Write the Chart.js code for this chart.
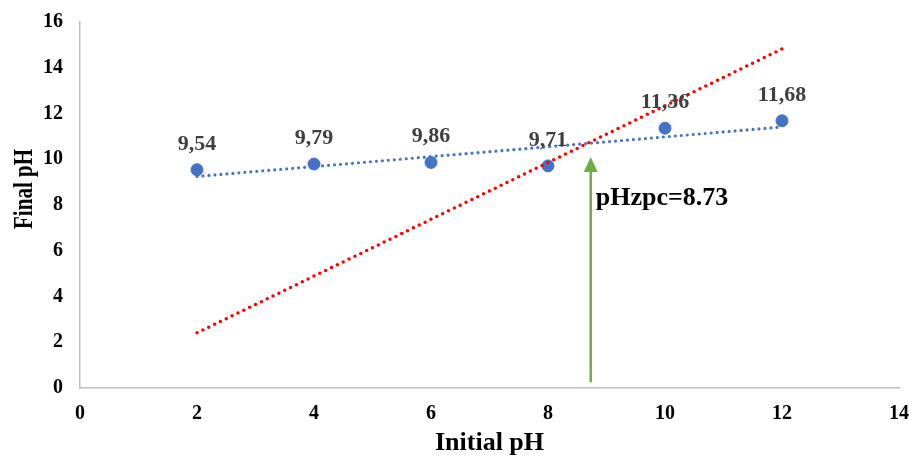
<!DOCTYPE html>
<html>
<head>
<meta charset="utf-8">
<script src="https://cdn.jsdelivr.net/npm/chart.js@4"></script>
<style>
  html, body { margin: 0; padding: 0; background: #fff; }
  #wrap { width: 909px; height: 459px; position: relative; }
</style>
</head>
<body>
<div id="wrap"><canvas id="chart"></canvas></div>
<script>
const initialPH = [2, 4, 6, 8, 10, 12];
const finalPH = [9.54, 9.79, 9.86, 9.71, 11.36, 11.68];
const pointLabels = ['9,54', '9,79', '9,86', '9,71', '11,36', '11,68'];

// Trendlinie (blau, gepunktet) und Vergleichslinie (rot, gepunktet)
const trendX = [2, 12];
const trendY = [9.25, 11.41];
const refX = [2, 12];
const refY = [2.41, 14.82];

// Nullladungspunkt
const pzcValue = 8.73;
const arrowFrom = 0.25;
const arrowTo = 10.1;
const pzcText = 'pHzpc=8.73';
const pzcTextY = 8.3;

const xTicks = [0, 2, 4, 6, 8, 10, 12, 14];
const yTicks = [0, 2, 4, 6, 8, 10, 12, 14, 16];
const yTitle = 'Final pH';
const yTitleAt = 8.7; // Mitte der Achsenbeschriftung in y-Werten

const serif = '"Liberation Serif", "Times New Roman", serif';

const toXY = (xs, ys) => xs.map((x, i) => ({ x: x, y: ys[i] }));

const extras = {
    id: 'extras',
    afterDatasetsDraw(chart) {
        const { ctx, scales: { x, y } } = chart;
        ctx.save();

        // Pfeil
        const ax = x.getPixelForValue(pzcValue);
        const y0 = y.getPixelForValue(arrowFrom);
        const y1 = y.getPixelForValue(arrowTo);
        ctx.strokeStyle = '#70AD47';
        ctx.fillStyle = '#70AD47';
        ctx.lineWidth = 2.5;
        ctx.beginPath();
        ctx.moveTo(ax, y0);
        ctx.lineTo(ax, y1 + 12);
        ctx.stroke();
        ctx.beginPath();
        ctx.moveTo(ax, y1);
        ctx.lineTo(ax - 7, y1 + 15);
        ctx.lineTo(ax + 7, y1 + 15);
        ctx.closePath();
        ctx.fill();

        // Beschriftung pHzpc
        ctx.fillStyle = '#000';
        ctx.font = 'bold 26px ' + serif;
        ctx.textAlign = 'left';
        ctx.textBaseline = 'middle';
        ctx.fillText(pzcText, ax + 5, y.getPixelForValue(pzcTextY));

        // Datenbeschriftungen
        ctx.fillStyle = '#404040';
        ctx.font = 'bold 22px ' + serif;
        ctx.textAlign = 'center';
        ctx.textBaseline = 'alphabetic';
        initialPH.forEach((v, i) => {
            ctx.fillText(pointLabels[i], x.getPixelForValue(v), y.getPixelForValue(finalPH[i]) - 20);
        });

        // y-Achsentitel (gedreht, etwas gestreckt wie im Original)
        ctx.fillStyle = '#000';
        ctx.font = 'bold 21px ' + serif;
        ctx.textAlign = 'center';
        ctx.textBaseline = 'middle';
        ctx.translate(25, y.getPixelForValue(yTitleAt));
        ctx.rotate(-Math.PI / 2);
        ctx.scale(1, 1.25);
        ctx.fillText(yTitle, 0, 0);
        ctx.restore();
    }
};

new Chart(document.getElementById('chart'), {
    type: 'scatter',
    data: {
        datasets: [
            { data: toXY(initialPH, finalPH), backgroundColor: '#4472C4', borderColor: '#4472C4', pointRadius: 6, order: 3 },
            { data: toXY(trendX, trendY), showLine: true, pointRadius: 0, borderColor: '#4472C4', borderWidth: 3.2, borderDash: [0, 6], borderCapStyle: 'round', order: 2 },
            { data: toXY(refX, refY), showLine: true, pointRadius: 0, borderColor: '#FF0000', borderWidth: 3.5, borderDash: [0, 6.5], borderCapStyle: 'round', order: 1 },
        ],
    },
    options: {
        responsive: true,
        maintainAspectRatio: false,
        animation: false,
        layout: { padding: { top: 22, right: 10, left: 0, bottom: 0 } },
        plugins: { legend: { display: false }, tooltip: { enabled: false } },
        scales: {
            x: {
                min: 0, max: 14,
                afterBuildTicks: s => { s.ticks = xTicks.map(v => ({ value: v })); },
                afterFit: s => { s.height = 71; s.paddingLeft = 0; s.paddingRight = 0; },
                grid: { display: false, drawTicks: false },
                border: { display: true, color: '#BFBFBF', width: 1.5 },
                ticks: { color: '#000', padding: 14, font: { family: serif, size: 20, weight: 'bold' } },
                title: { display: true, text: 'Initial pH', color: '#000', padding: { top: 0, bottom: 0 }, font: { family: serif, size: 26, weight: 'bold' } },
            },
            y: {
                min: 0, max: 16,
                afterBuildTicks: s => { s.ticks = yTicks.map(v => ({ value: v })); },
                afterFit: s => { s.width = 80; s.paddingTop = 0; s.paddingBottom = 0; },
                grid: { display: false, drawTicks: false },
                border: { display: true, color: '#BFBFBF', width: 1.5 },
                ticks: { color: '#000', padding: 17, font: { family: serif, size: 20, weight: 'bold' } },
            },
        },
    },
    plugins: [extras],
});
</script>
</body>
</html>
